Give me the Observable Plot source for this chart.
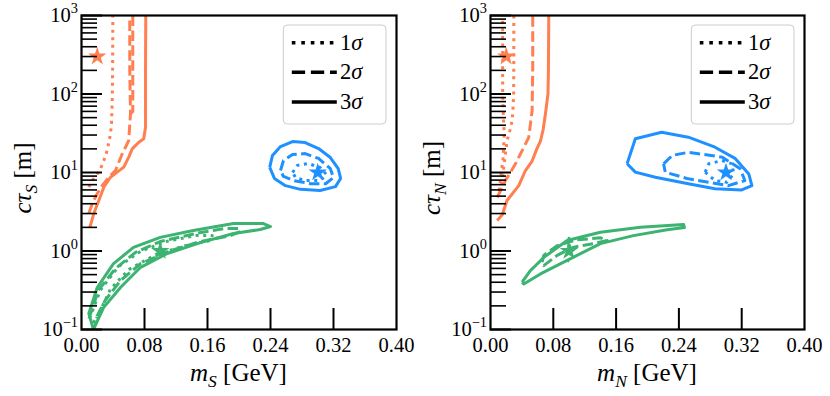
<!DOCTYPE html>
<html><head><meta charset="utf-8">
<script src="https://cdn.jsdelivr.net/npm/d3@7"></script>
<script src="https://cdn.jsdelivr.net/npm/@observablehq/plot@0.6"></script>
<style>
body{margin:0;background:#fff}
#wrap{display:flex;width:830px;height:396px}
</style>
</head><body><div id="wrap"></div>
<script>
// ---------- ticks & labels ----------
const xTickLabels = [0, 0.08, 0.16, 0.24, 0.32, 0.40];
const xInnerTicks = [0.08, 0.16, 0.24, 0.32];
const yMajorTicks = [0.1, 1, 10, 100, 1000];
const yMinorTicks = [0.2,0.3,0.4,0.5,0.6,0.7,0.8,0.9, 2,3,4,5,6,7,8,9, 20,30,40,50,60,70,80,90, 200,300,400,500,600,700,800,900];
const legendLabels = ["1", "2", "3"]; // followed by italic σ
const legendStyles = ["dotted", "dashed", "solid"];
const colOrange = "#ff7f50", colBlue = "#1e90ff", colGreen = "#3cb371";

// ---------- left panel (scalar S) : [m (GeV), c tau (m)] ----------
const sOrange1 = [[0.0093,6.5],[0.0136,7.9],[0.020,9.6],[0.0241,11.1],[0.0283,14.2],[0.0326,19],[0.0368,31],[0.0381,41.7],[0.039,83],[0.0395,200],[0.0398,1000]];
const sOrange2 = [[0.0093,3.0],[0.0136,4.0],[0.020,5.4],[0.0263,6.8],[0.0347,8.7],[0.0432,10.6],[0.0474,13.5],[0.0517,17.3],[0.0559,21],[0.060,25.6],[0.0622,56],[0.0613,200],[0.0613,1000]];
const sOrange2b = [[0.0651,1000],[0.0651,200],[0.0651,60],[0.0622,56]];
const sOrange3 = [[0.0106,2.0],[0.0156,3.0],[0.022,4.4],[0.0283,6.5],[0.0368,8.7],[0.0453,10.1],[0.0537,11.7],[0.060,15.7],[0.0644,20],[0.0728,24.3],[0.079,26.9],[0.0813,37.8],[0.0813,200],[0.0816,1000]];
const sBlue1 = [[0.268,10],[0.274,12.3],[0.288,13],[0.303,11.6],[0.311,9.4],[0.303,7.9],[0.284,7.9],[0.272,8.6],[0.268,10]];
const sBlue2 = [[0.2527,10.6],[0.2565,14.2],[0.268,16.9],[0.284,17.4],[0.301,15.1],[0.316,11.2],[0.320,8.6],[0.310,7.2],[0.291,7.2],[0.269,7.9],[0.2565,8.9],[0.2527,10.6]];
const sBlue3 = [[0.239,11.6],[0.2425,16.5],[0.2527,21.4],[0.268,24.8],[0.284,24.1],[0.301,20.2],[0.316,15.5],[0.326,11.2],[0.329,8.4],[0.3225,6.6],[0.303,5.9],[0.278,6.1],[0.259,6.8],[0.245,8.4],[0.239,11.6]];
const sGreen1 = [[0.0102,0.138],[0.024,0.318],[0.047,0.635],[0.075,0.99],[0.107,1.32],[0.145,1.57],[0.166,1.57],[0.164,1.36],[0.132,1.17],[0.094,0.90],[0.060,0.58],[0.037,0.33],[0.019,0.138]];
const sGreen2 = [[0.0095,0.138],[0.0216,0.318],[0.0432,0.6],[0.0686,0.96],[0.100,1.32],[0.145,1.67],[0.183,1.94],[0.199,1.94],[0.202,1.77],[0.189,1.57],[0.151,1.32],[0.113,1.01],[0.075,0.69],[0.0495,0.42],[0.030,0.234],[0.015,0.12]];
const sGreen3 = [[0.0152,0.1],[0.0093,0.16],[0.020,0.343],[0.0406,0.69],[0.066,1.11],[0.100,1.49],[0.142,1.82],[0.193,2.24],[0.231,2.24],[0.240,2.05],[0.227,1.88],[0.193,1.67],[0.151,1.28],[0.109,0.93],[0.075,0.62],[0.0495,0.343],[0.028,0.19],[0.0152,0.1]];

// ---------- right panel (neutrino N) ----------
const nOrange1 = [[0.0297,1000],[0.0297,300],[0.0295,100],[0.0285,61],[0.0276,46],[0.0246,34],[0.0212,25.6],[0.019,17.3],[0.0169,11.7],[0.0149,7.9],[0.0125,6.0],[0.0106,5.4],[0.0135,9.6],[0.016,15],[0.0175,30],[0.0165,50],[0.0155,100],[0.0155,1000]];
const nOrange2 = [[0.0085,4.8],[0.019,7.9],[0.0318,12.9],[0.0403,19],[0.0487,28],[0.053,61],[0.0538,218],[0.0538,1000]];
const nOrange3 = [[0.0085,2.45],[0.015,2.9],[0.021,4.4],[0.036,6.8],[0.0445,10.6],[0.053,14],[0.059,20],[0.0636,25],[0.067,35],[0.070,56],[0.0732,100],[0.0738,200],[0.0742,1000]];
const nBlue1 = [[0.2735,10.1],[0.278,12.9],[0.295,14.2],[0.3075,12.9],[0.3096,9.6],[0.301,7.5],[0.286,7.9],[0.2735,10.1]];
const nBlue2 = [[0.2205,12.9],[0.2315,16.5],[0.252,18.1],[0.295,15.7],[0.318,11.2],[0.324,7.9],[0.303,6.8],[0.252,8.3],[0.2226,10.1],[0.2205,12.9]];
const nBlue3 = [[0.174,12.9],[0.1845,26.9],[0.218,32.6],[0.252,28.2],[0.286,21],[0.312,15],[0.329,9.6],[0.333,6.8],[0.320,6.0],[0.286,6.2],[0.252,7.2],[0.21,8.7],[0.1845,10.1],[0.174,12.9]];
const nGreen1 = [[0.098,0.72],[0.0995,1.0],[0.100,1.45],[0.1015,1.0],[0.098,0.72]];
const nGreen2 = [[0.0658,0.72],[0.0678,0.88],[0.0849,1.17],[0.110,1.39],[0.14,1.47],[0.1485,1.36],[0.1314,1.24],[0.106,1.12],[0.0849,0.88],[0.0678,0.65],[0.0658,0.72]];
const nGreen3 = [[0.0403,0.40],[0.051,0.565],[0.068,0.83],[0.0976,1.36],[0.14,1.73],[0.191,2.01],[0.246,2.18],[0.247,1.99],[0.225,1.86],[0.182,1.57],[0.14,1.24],[0.0976,0.76],[0.0636,0.51],[0.0424,0.38],[0.0403,0.40]];

// benchmark stars [m, ctau, color]
const starsM = [0.02, 0.3, 0.1];
const starsT = [300, 10, 1];
const starsC = [colOrange, colBlue, colGreen];

const dash = {dotted: "3,4.6", dashed: "10.5,4.4", solid: null};
const FONT = "Liberation Serif, DejaVu Serif, serif";

function contour(data, color, style) {
  return Plot.line(data, {x: d => d[0], y: d => d[1], stroke: color, strokeWidth: 3,
    strokeDasharray: dash[style], strokeLinejoin: "round", strokeLinecap: "butt", clip: true});
}

function rich(textSel, parts, size) {
  let shift = 0;
  parts.forEach(p => {
    const ts = textSel.append("tspan").text(p.t);
    if (p.i) ts.attr("font-style", "italic");
    let target = 0;
    if (p.sub) { ts.attr("font-size", size * 0.7); target = size * 0.25; }
    if (p.sup) { ts.attr("font-size", size * 0.7); target = -size * 0.42; }
    if (target - shift !== 0) ts.attr("dy", target - shift);
    shift = target;
  });
}

function panel(opts) {
  const {ml, mr, curves, sub} = opts;
  const fig = Plot.plot({
    width: 415, height: 396,
    marginLeft: ml, marginRight: mr, marginTop: 15, marginBottom: 67,
    style: {fontFamily: FONT, fontSize: "20.5px", background: "white", overflow: "visible", color: "black"},
    x: {domain: [0, 0.4]},
    y: {type: "log", domain: [0.1, 1000]},
    marks: [
      ...curves.map(c => contour(c[0], c[1], c[2])),
      Plot.dot(starsM.map((m, i) => ({m, t: starsT[i], c: starsC[i]})), {x: "m", y: "t", fill: "c", symbol: "star", r: 5.8, stroke: "none"}),
      Plot.ruleX(xInnerTicks, {stroke: "black", strokeWidth: 2, insetTop: 314 - 21}),
      Plot.ruleY(yMajorTicks, {stroke: "black", strokeWidth: 2, insetRight: 415 - ml - mr - 21}),
      Plot.ruleY(yMinorTicks, {stroke: "black", strokeWidth: 1.6, insetRight: 415 - ml - mr - 16}),
      Plot.axisX({ticks: xTickLabels, tickSize: 0, tickPadding: 8, tickFormat: d3.format(".2f"), label: null}),
      Plot.axisY({ticks: yMajorTicks, tickSize: 0, tickPadding: 3.5, tickFormat: d => "10^" + Math.round(Math.log10(d)), label: null}),
      Plot.frame({stroke: "black", strokeWidth: 2.2})
    ]
  });
  const svg = d3.select(fig);
  // superscripts for log tick labels
  svg.selectAll("text").each(function() {
    const t = this.textContent;
    if (/^10\^/.test(t)) {
      const e = t.slice(3).replace("-", "\u2212");
      const sel = d3.select(this);
      sel.text("");
      rich(sel, [{t: "10"}, {t: e, sup: true}], 20.5);
    }
  });
  const xr = fig.scale("x").range, yr = fig.scale("y").range;
  const fL = Math.min(...xr), fR = Math.max(...xr), fT = Math.min(...yr), fB = Math.max(...yr);
  const g = svg.append("g").attr("font-family", FONT).attr("fill", "black");
  // axis labels
  const xl = g.append("text").attr("x", (fL + fR) / 2).attr("y", fB + 52).attr("text-anchor", "middle").attr("font-size", 25);
  rich(xl, [{t: "m", i: 1}, {t: sub, i: 1, sub: 1}, {t: " [GeV]"}], 25);
  const yl = g.append("text").attr("transform", `translate(${fL - 50},${(fT + fB) / 2 + 6}) rotate(-90)`).attr("text-anchor", "middle").attr("font-size", 25);
  rich(yl, [{t: "c", i: 1}, {t: "\u03c4", i: 1}, {t: sub, i: 1, sub: 1}, {t: " [m]"}], 25);
  // legend
  const bw = 102.7, bh = 99, bx = fR - 10 - bw, by = fT + 10;
  const lg = svg.append("g");
  lg.append("rect").attr("x", bx).attr("y", by).attr("width", bw).attr("height", bh).attr("rx", 4)
    .attr("fill", "white").attr("fill-opacity", 0.8).attr("stroke", "#cccccc").attr("stroke-width", 1);
  const rows = [17.7, 47.3, 77];
  legendLabels.forEach((lab, i) => {
    const yy = by + rows[i];
    const ln = lg.append("line").attr("x1", bx + 8.5).attr("x2", bx + 53.5).attr("y1", yy).attr("y2", yy)
      .attr("stroke", "black").attr("stroke-width", 3.6);
    const st = legendStyles[i];
    if (st === "dotted") ln.attr("stroke-dasharray", "3.6,5.9");
    if (st === "dashed") ln.attr("stroke-dasharray", "13.3,5.8");
    const tx = lg.append("text").attr("x", bx + 68).attr("y", yy + 7).attr("font-family", FONT).attr("font-size", 22.5);
    rich(tx, [{t: lab}, {t: "\u03c3", i: 1}], 22.5);
  });
  return fig;
}

const left = panel({ml: 81, mr: 19, sub: "S", curves: [
  [sOrange1, colOrange, "dotted"], [sOrange2, colOrange, "dashed"], [sOrange2b, colOrange, "dashed"], [sOrange3, colOrange, "solid"],
  [sBlue1, colBlue, "dotted"], [sBlue2, colBlue, "dashed"], [sBlue3, colBlue, "solid"],
  [sGreen1, colGreen, "dotted"], [sGreen2, colGreen, "dashed"], [sGreen3, colGreen, "solid"]
]});
const right = panel({ml: 75, mr: 26, sub: "N", curves: [
  [nOrange1, colOrange, "dotted"], [nOrange2, colOrange, "dashed"], [nOrange3, colOrange, "solid"],
  [nBlue1, colBlue, "dotted"], [nBlue2, colBlue, "dashed"], [nBlue3, colBlue, "solid"],
  [nGreen1, colGreen, "dotted"], [nGreen2, colGreen, "dashed"], [nGreen3, colGreen, "solid"]
]});
document.getElementById("wrap").append(left, right);
</script>
</body></html>
